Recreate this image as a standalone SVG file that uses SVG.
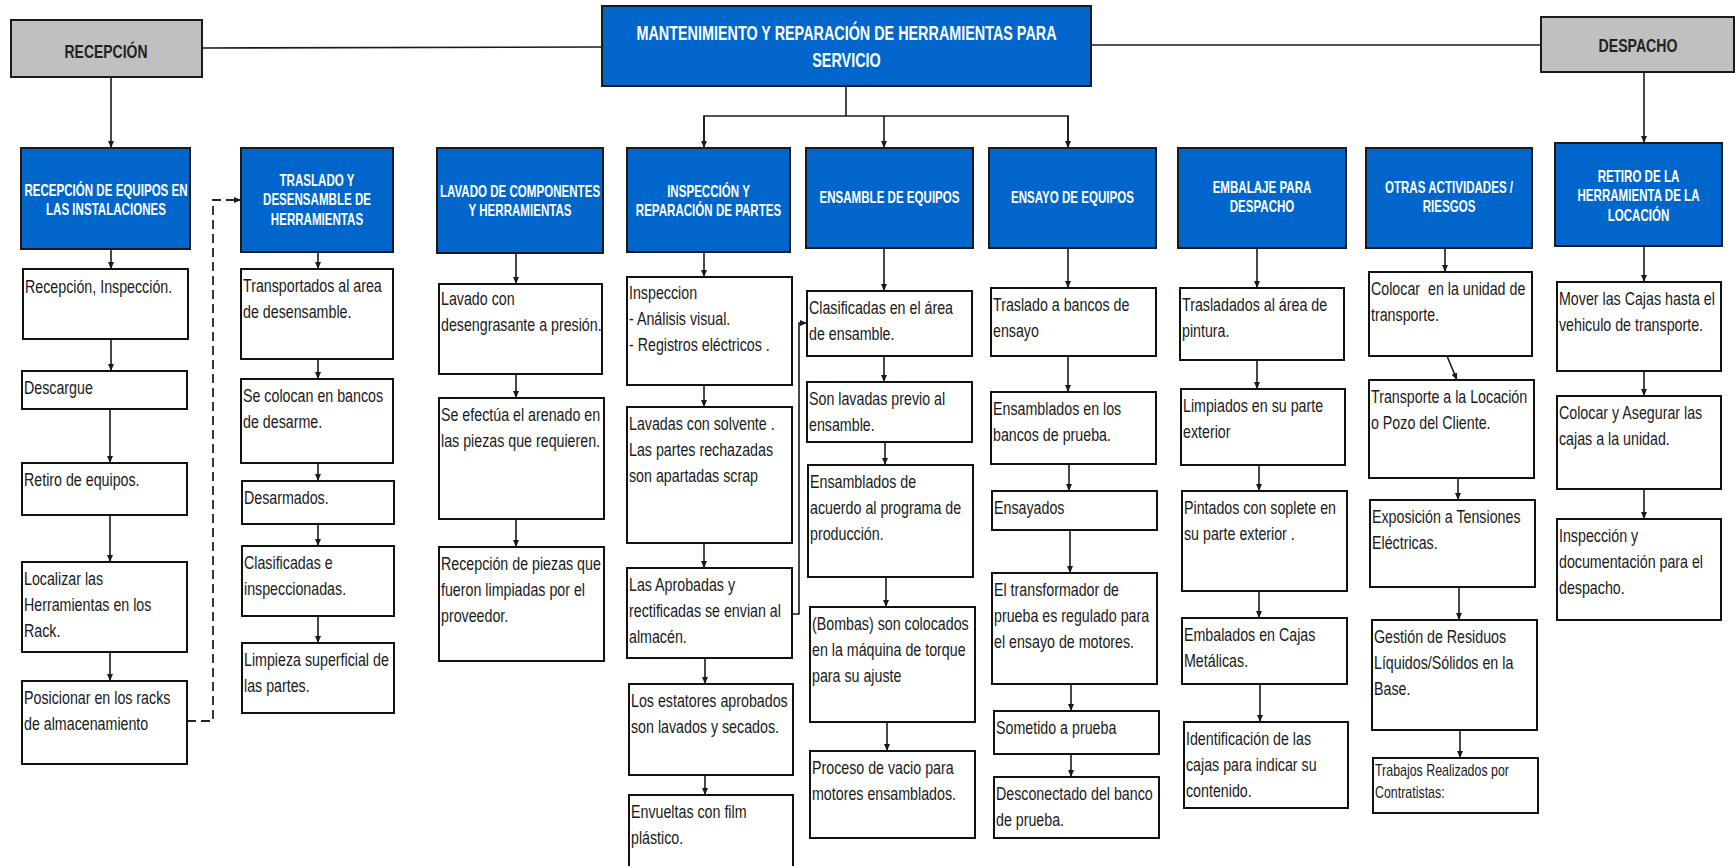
<svg xmlns="http://www.w3.org/2000/svg" width="1735" height="866" viewBox="0 0 1735 866">
<style>
  .hdr{fill:#0066cc;stroke:#1a1a1a;stroke-width:2}
  .gry{fill:#c0c0c0;stroke:#1a1a1a;stroke-width:2}
  .box{fill:#ffffff;stroke:#111111;stroke-width:2}
  .ht{font-family:"Liberation Sans",Arial,sans-serif;font-weight:bold;fill:#ffffff;font-size:16.3px;text-anchor:middle}
  .tt{font-family:"Liberation Sans",Arial,sans-serif;font-weight:bold;fill:#ffffff;font-size:21px;text-anchor:middle}
  .gt{font-family:"Liberation Sans",Arial,sans-serif;font-weight:bold;fill:#222222;font-size:18.6px;text-anchor:middle}
  .bt{font-family:"Liberation Sans",Arial,sans-serif;fill:#1a1a1a;font-size:18.5px}
  .sm{font-family:"Liberation Sans",Arial,sans-serif;fill:#1a1a1a;font-size:17px}
  .cn{fill:none;stroke:#1a1a1a;stroke-width:1.6}
  .dash{fill:none;stroke:#222222;stroke-width:1.8;stroke-dasharray:9 5}
</style>
<defs>
  <marker id="ah" markerUnits="userSpaceOnUse" markerWidth="8" markerHeight="7" refX="7" refY="3" orient="auto">
    <path d="M0,0 L7,3 L0,6 z" fill="#1a1a1a"/>
  </marker>
</defs>
<rect width="1735" height="866" fill="#ffffff"/>

<!-- connectors -->
<g id="connectors">
  <line class="cn" x1="202" y1="48" x2="602" y2="47"/>
  <line class="cn" x1="1091" y1="45" x2="1541" y2="45"/>
  <line class="cn" x1="111" y1="77" x2="111" y2="148" marker-end="url(#ah)"/>
  <line class="cn" x1="1644" y1="72" x2="1644" y2="143" marker-end="url(#ah)"/>
  <polyline class="cn" points="846,86 846,116"/>
  <polyline class="cn" points="704,148 704,116 1068,116 1068,148"/>
  <line class="cn" x1="704" y1="116" x2="704" y2="148" marker-end="url(#ah)"/>
  <line class="cn" x1="884" y1="116" x2="884" y2="148" marker-end="url(#ah)"/>
  <line class="cn" x1="1068" y1="116" x2="1068" y2="148" marker-end="url(#ah)"/>
  <polyline class="dash" points="187,721 213,721 213,200 233,200"/>
  <line class="cn" x1="232" y1="200" x2="241" y2="200" marker-end="url(#ah)"/>
  <polyline class="cn" points="792,614 799,614 799,323 807,323" marker-end="url(#ah)"/>
  <!-- column 1 -->
  <line class="cn" x1="111" y1="249" x2="111" y2="269" marker-end="url(#ah)"/>
  <line class="cn" x1="111" y1="339" x2="111" y2="371" marker-end="url(#ah)"/>
  <line class="cn" x1="110" y1="409" x2="110" y2="463" marker-end="url(#ah)"/>
  <line class="cn" x1="110" y1="515" x2="110" y2="562" marker-end="url(#ah)"/>
  <line class="cn" x1="110" y1="652" x2="110" y2="681" marker-end="url(#ah)"/>
  <!-- column 2 -->
  <line class="cn" x1="318" y1="252" x2="318" y2="269" marker-end="url(#ah)"/>
  <line class="cn" x1="318" y1="359" x2="318" y2="379" marker-end="url(#ah)"/>
  <line class="cn" x1="318" y1="463" x2="318" y2="481" marker-end="url(#ah)"/>
  <line class="cn" x1="318" y1="524" x2="318" y2="546" marker-end="url(#ah)"/>
  <line class="cn" x1="318" y1="616" x2="318" y2="643" marker-end="url(#ah)"/>
  <!-- column 3 -->
  <line class="cn" x1="516" y1="253" x2="516" y2="284" marker-end="url(#ah)"/>
  <line class="cn" x1="516" y1="374" x2="516" y2="398" marker-end="url(#ah)"/>
  <line class="cn" x1="516" y1="519" x2="516" y2="547" marker-end="url(#ah)"/>
  <!-- column 4 -->
  <line class="cn" x1="704" y1="252" x2="704" y2="277" marker-end="url(#ah)"/>
  <line class="cn" x1="704" y1="385" x2="704" y2="407" marker-end="url(#ah)"/>
  <line class="cn" x1="704" y1="543" x2="704" y2="568" marker-end="url(#ah)"/>
  <line class="cn" x1="705" y1="658" x2="705" y2="684" marker-end="url(#ah)"/>
  <line class="cn" x1="705" y1="775" x2="705" y2="795" marker-end="url(#ah)"/>
  <!-- column 5 -->
  <line class="cn" x1="884" y1="248" x2="884" y2="291" marker-end="url(#ah)"/>
  <line class="cn" x1="884" y1="356" x2="884" y2="382" marker-end="url(#ah)"/>
  <line class="cn" x1="885" y1="442" x2="885" y2="465" marker-end="url(#ah)"/>
  <line class="cn" x1="886" y1="577" x2="886" y2="607" marker-end="url(#ah)"/>
  <line class="cn" x1="887" y1="722" x2="887" y2="751" marker-end="url(#ah)"/>
  <!-- column 6 -->
  <line class="cn" x1="1068" y1="248" x2="1068" y2="288" marker-end="url(#ah)"/>
  <line class="cn" x1="1068" y1="356" x2="1068" y2="392" marker-end="url(#ah)"/>
  <line class="cn" x1="1069" y1="464" x2="1069" y2="491" marker-end="url(#ah)"/>
  <line class="cn" x1="1070" y1="530" x2="1070" y2="573" marker-end="url(#ah)"/>
  <line class="cn" x1="1071" y1="684" x2="1071" y2="711" marker-end="url(#ah)"/>
  <line class="cn" x1="1071" y1="754" x2="1071" y2="777" marker-end="url(#ah)"/>
  <!-- column 7 -->
  <line class="cn" x1="1257" y1="248" x2="1257" y2="288" marker-end="url(#ah)"/>
  <line class="cn" x1="1257" y1="360" x2="1257" y2="389" marker-end="url(#ah)"/>
  <line class="cn" x1="1259" y1="465" x2="1259" y2="491" marker-end="url(#ah)"/>
  <line class="cn" x1="1259" y1="591" x2="1259" y2="618" marker-end="url(#ah)"/>
  <line class="cn" x1="1260" y1="684" x2="1260" y2="722" marker-end="url(#ah)"/>
  <!-- column 8 -->
  <line class="cn" x1="1445" y1="248" x2="1445" y2="272" marker-end="url(#ah)"/>
  <line class="cn" x1="1447" y1="356" x2="1457" y2="380" marker-end="url(#ah)"/>
  <line class="cn" x1="1458" y1="478" x2="1458" y2="500" marker-end="url(#ah)"/>
  <line class="cn" x1="1459" y1="587" x2="1459" y2="620" marker-end="url(#ah)"/>
  <line class="cn" x1="1460" y1="730" x2="1460" y2="758" marker-end="url(#ah)"/>
  <!-- column 9 -->
  <line class="cn" x1="1644" y1="246" x2="1644" y2="282" marker-end="url(#ah)"/>
  <line class="cn" x1="1644" y1="371" x2="1644" y2="396" marker-end="url(#ah)"/>
  <line class="cn" x1="1644" y1="489" x2="1644" y2="519" marker-end="url(#ah)"/>
</g>

<!-- top level -->
<g id="recepcion">
  <rect class="gry" x="11" y="20" width="191" height="57"/>
  <text class="gt" transform="translate(106 57.6) scale(.75 1)">RECEPCIÓN</text>
</g>
<g id="titulo">
  <rect class="hdr" x="602" y="6" width="489" height="80"/>
  <text class="tt" transform="translate(846.5 40) scale(.685 1)"><tspan x="0">MANTENIMIENTO Y REPARACIÓN DE HERRAMIENTAS PARA</tspan><tspan x="0" dy="27.5">SERVICIO</tspan></text>
</g>
<g id="despacho">
  <rect class="gry" x="1541" y="17" width="193" height="55"/>
  <text class="gt" transform="translate(1638 51.6) scale(.76 1)">DESPACHO</text>
</g>

<!-- column headers -->
<g id="h-recepcion-equipos">
  <rect class="hdr" x="21" y="148" width="169" height="101"/>
  <text class="ht" transform="translate(106 196) scale(.71 1)"><tspan x="0">RECEPCIÓN DE EQUIPOS EN</tspan><tspan x="0" dy="19">LAS INSTALACIONES</tspan></text>
</g>
<g id="h-traslado">
  <rect class="hdr" x="241" y="148" width="152" height="104"/>
  <text class="ht" transform="translate(317 186) scale(.71 1)"><tspan x="0">TRASLADO Y</tspan><tspan x="0" dy="19.5">DESENSAMBLE DE</tspan><tspan x="0" dy="19.5">HERRAMIENTAS</tspan></text>
</g>
<g id="h-lavado">
  <rect class="hdr" x="437" y="148" width="166" height="105"/>
  <text class="ht" transform="translate(520 197) scale(.71 1)"><tspan x="0">LAVADO DE COMPONENTES</tspan><tspan x="0" dy="19">Y HERRAMIENTAS</tspan></text>
</g>
<g id="h-inspeccion">
  <rect class="hdr" x="627" y="148" width="163" height="104"/>
  <text class="ht" transform="translate(708.5 196.5) scale(.71 1)"><tspan x="0">INSPECCIÓN Y</tspan><tspan x="0" dy="20">REPARACIÓN DE PARTES</tspan></text>
</g>
<g id="h-ensamble">
  <rect class="hdr" x="806" y="148" width="167" height="100"/>
  <text class="ht" transform="translate(889.5 203) scale(.71 1)">ENSAMBLE DE EQUIPOS</text>
</g>
<g id="h-ensayo">
  <rect class="hdr" x="989" y="148" width="167" height="100"/>
  <text class="ht" transform="translate(1072.5 203) scale(.71 1)">ENSAYO DE EQUIPOS</text>
</g>
<g id="h-embalaje">
  <rect class="hdr" x="1178" y="148" width="168" height="100"/>
  <text class="ht" transform="translate(1262 193) scale(.71 1)"><tspan x="0">EMBALAJE PARA</tspan><tspan x="0" dy="19.5">DESPACHO</tspan></text>
</g>
<g id="h-otras">
  <rect class="hdr" x="1366" y="148" width="166" height="100"/>
  <text class="ht" transform="translate(1449 193) scale(.71 1)"><tspan x="0">OTRAS ACTIVIDADES /</tspan><tspan x="0" dy="19.5">RIESGOS</tspan></text>
</g>
<g id="h-retiro">
  <rect class="hdr" x="1555" y="143" width="167" height="103"/>
  <text class="ht" transform="translate(1638.5 182) scale(.71 1)"><tspan x="0">RETIRO DE LA</tspan><tspan x="0" dy="19.5">HERRAMIENTA DE LA</tspan><tspan x="0" dy="19.5">LOCACIÓN</tspan></text>
</g>

<!-- column 1 -->
<g id="n1a"><rect class="box" x="23" y="269" width="165" height="70"/><text class="bt" transform="translate(25 293) scale(.77 1)">Recepción, Inspección.</text></g>
<g id="n1b"><rect class="box" x="22" y="371" width="165" height="38"/><text class="bt" transform="translate(24 394) scale(.77 1)">Descargue</text></g>
<g id="n1c"><rect class="box" x="22" y="463" width="165" height="52"/><text class="bt" transform="translate(24 486) scale(.77 1)">Retiro de equipos.</text></g>
<g id="n1d"><rect class="box" x="22" y="562" width="165" height="90"/><text class="bt" transform="translate(24 585) scale(.77 1)"><tspan x="0">Localizar las</tspan><tspan x="0" dy="26">Herramientas en los</tspan><tspan x="0" dy="26">Rack.</tspan></text></g>
<g id="n1e"><rect class="box" x="22" y="681" width="165" height="83"/><text class="bt" transform="translate(24 704) scale(.77 1)"><tspan x="0">Posicionar en los racks</tspan><tspan x="0" dy="26">de almacenamiento</tspan></text></g>

<!-- column 2 -->
<g id="n2a"><rect class="box" x="241" y="269" width="152" height="90"/><text class="bt" transform="translate(243 292) scale(.77 1)"><tspan x="0">Transportados al area</tspan><tspan x="0" dy="26">de desensamble.</tspan></text></g>
<g id="n2b"><rect class="box" x="241" y="379" width="152" height="84"/><text class="bt" transform="translate(243 402) scale(.77 1)"><tspan x="0">Se colocan en bancos</tspan><tspan x="0" dy="26">de desarme.</tspan></text></g>
<g id="n2c"><rect class="box" x="242" y="481" width="152" height="43"/><text class="bt" transform="translate(244 504) scale(.77 1)">Desarmados.</text></g>
<g id="n2d"><rect class="box" x="242" y="546" width="152" height="70"/><text class="bt" transform="translate(244 569) scale(.77 1)"><tspan x="0">Clasificadas e</tspan><tspan x="0" dy="26">inspeccionadas.</tspan></text></g>
<g id="n2e"><rect class="box" x="242" y="643" width="152" height="70"/><text class="bt" transform="translate(244 666) scale(.77 1)"><tspan x="0">Limpieza superficial de</tspan><tspan x="0" dy="26">las partes.</tspan></text></g>

<!-- column 3 -->
<g id="n3a"><rect class="box" x="439" y="284" width="163" height="90"/><text class="bt" transform="translate(441 305) scale(.77 1)"><tspan x="0">Lavado con</tspan><tspan x="0" dy="26">desengrasante a presión.</tspan></text></g>
<g id="n3b"><rect class="box" x="439" y="398" width="165" height="121"/><text class="bt" transform="translate(441 421) scale(.77 1)"><tspan x="0">Se efectúa el arenado en</tspan><tspan x="0" dy="26">las piezas que requieren.</tspan></text></g>
<g id="n3c"><rect class="box" x="439" y="547" width="165" height="114"/><text class="bt" transform="translate(441 570) scale(.77 1)"><tspan x="0">Recepción de piezas que</tspan><tspan x="0" dy="26">fueron limpiadas por el</tspan><tspan x="0" dy="26">proveedor.</tspan></text></g>

<!-- column 4 -->
<g id="n4a"><rect class="box" x="627" y="277" width="165" height="108"/><text class="bt" transform="translate(629 299) scale(.77 1)"><tspan x="0">Inspeccion</tspan><tspan x="0" dy="26">- Análisis visual.</tspan><tspan x="0" dy="26">- Registros eléctricos .</tspan></text></g>
<g id="n4b"><rect class="box" x="627" y="407" width="165" height="136"/><text class="bt" transform="translate(629 430) scale(.77 1)"><tspan x="0">Lavadas con solvente .</tspan><tspan x="0" dy="26">Las partes rechazadas</tspan><tspan x="0" dy="26">son apartadas scrap</tspan></text></g>
<g id="n4c"><rect class="box" x="627" y="568" width="165" height="90"/><text class="bt" transform="translate(629 591) scale(.77 1)"><tspan x="0">Las Aprobadas y</tspan><tspan x="0" dy="26">rectificadas se envian al</tspan><tspan x="0" dy="26">almacén.</tspan></text></g>
<g id="n4d"><rect class="box" x="629" y="684" width="164" height="91"/><text class="bt" transform="translate(631 707) scale(.77 1)"><tspan x="0">Los estatores aprobados</tspan><tspan x="0" dy="26">son lavados y secados.</tspan></text></g>
<g id="n4e"><rect class="box" x="629" y="795" width="164" height="80"/><text class="bt" transform="translate(631 818) scale(.77 1)"><tspan x="0">Envueltas con film</tspan><tspan x="0" dy="26">plástico.</tspan></text></g>

<!-- column 5 -->
<g id="n5a"><rect class="box" x="807" y="291" width="165" height="65"/><text class="bt" transform="translate(809 314) scale(.77 1)"><tspan x="0">Clasificadas en el área</tspan><tspan x="0" dy="26">de ensamble.</tspan></text></g>
<g id="n5b"><rect class="box" x="807" y="382" width="165" height="60"/><text class="bt" transform="translate(809 405) scale(.77 1)"><tspan x="0">Son lavadas previo al</tspan><tspan x="0" dy="26">ensamble.</tspan></text></g>
<g id="n5c"><rect class="box" x="808" y="465" width="165" height="112"/><text class="bt" transform="translate(810 488) scale(.77 1)"><tspan x="0">Ensamblados de</tspan><tspan x="0" dy="26">acuerdo al programa de</tspan><tspan x="0" dy="26">producción.</tspan></text></g>
<g id="n5d"><rect class="box" x="810" y="607" width="165" height="115"/><text class="bt" transform="translate(812 630) scale(.77 1)"><tspan x="0">(Bombas) son colocados</tspan><tspan x="0" dy="26">en la máquina de torque</tspan><tspan x="0" dy="26">para su ajuste</tspan></text></g>
<g id="n5e"><rect class="box" x="810" y="751" width="165" height="87"/><text class="bt" transform="translate(812 774) scale(.77 1)"><tspan x="0">Proceso de vacio para</tspan><tspan x="0" dy="26">motores ensamblados.</tspan></text></g>

<!-- column 6 -->
<g id="n6a"><rect class="box" x="991" y="288" width="165" height="68"/><text class="bt" transform="translate(993 311) scale(.77 1)"><tspan x="0">Traslado a bancos de</tspan><tspan x="0" dy="26">ensayo</tspan></text></g>
<g id="n6b"><rect class="box" x="991" y="392" width="165" height="72"/><text class="bt" transform="translate(993 415) scale(.77 1)"><tspan x="0">Ensamblados en los</tspan><tspan x="0" dy="26">bancos de prueba.</tspan></text></g>
<g id="n6c"><rect class="box" x="992" y="491" width="165" height="39"/><text class="bt" transform="translate(994 514) scale(.77 1)">Ensayados</text></g>
<g id="n6d"><rect class="box" x="992" y="573" width="165" height="111"/><text class="bt" transform="translate(994 596) scale(.77 1)"><tspan x="0">El transformador de</tspan><tspan x="0" dy="26">prueba es regulado para</tspan><tspan x="0" dy="26">el ensayo de motores.</tspan></text></g>
<g id="n6e"><rect class="box" x="994" y="711" width="165" height="43"/><text class="bt" transform="translate(996 734) scale(.77 1)">Sometido a prueba</text></g>
<g id="n6f"><rect class="box" x="994" y="777" width="165" height="61"/><text class="bt" transform="translate(996 800) scale(.77 1)"><tspan x="0">Desconectado del banco</tspan><tspan x="0" dy="26">de prueba.</tspan></text></g>

<!-- column 7 -->
<g id="n7a"><rect class="box" x="1180" y="288" width="164" height="72"/><text class="bt" transform="translate(1182 311) scale(.77 1)"><tspan x="0">Trasladados al área de</tspan><tspan x="0" dy="26">pintura.</tspan></text></g>
<g id="n7b"><rect class="box" x="1181" y="389" width="164" height="76"/><text class="bt" transform="translate(1183 412) scale(.77 1)"><tspan x="0">Limpiados en su parte</tspan><tspan x="0" dy="26">exterior</tspan></text></g>
<g id="n7c"><rect class="box" x="1182" y="491" width="165" height="100"/><text class="bt" transform="translate(1184 514) scale(.77 1)"><tspan x="0">Pintados con soplete en</tspan><tspan x="0" dy="26">su parte exterior .</tspan></text></g>
<g id="n7d"><rect class="box" x="1182" y="618" width="165" height="66"/><text class="bt" transform="translate(1184 641) scale(.77 1)"><tspan x="0">Embalados en Cajas</tspan><tspan x="0" dy="26">Metálicas.</tspan></text></g>
<g id="n7e"><rect class="box" x="1184" y="722" width="164" height="86"/><text class="bt" transform="translate(1186 745) scale(.77 1)"><tspan x="0">Identificación de las</tspan><tspan x="0" dy="26">cajas para indicar su</tspan><tspan x="0" dy="26">contenido.</tspan></text></g>

<!-- column 8 -->
<g id="n8a"><rect class="box" x="1369" y="272" width="163" height="84"/><text class="bt" transform="translate(1371 295) scale(.77 1)"><tspan x="0" xml:space="preserve">Colocar  en la unidad de</tspan><tspan x="0" dy="26">transporte.</tspan></text></g>
<g id="n8b"><rect class="box" x="1369" y="380" width="165" height="98"/><text class="bt" transform="translate(1371 403) scale(.77 1)"><tspan x="0">Transporte a la Locación</tspan><tspan x="0" dy="26">o Pozo del Cliente.</tspan></text></g>
<g id="n8c"><rect class="box" x="1370" y="500" width="165" height="87"/><text class="bt" transform="translate(1372 523) scale(.77 1)"><tspan x="0">Exposición a Tensiones</tspan><tspan x="0" dy="26">Eléctricas.</tspan></text></g>
<g id="n8d"><rect class="box" x="1372" y="620" width="165" height="110"/><text class="bt" transform="translate(1374 643) scale(.77 1)"><tspan x="0">Gestión de Residuos</tspan><tspan x="0" dy="26">Líquidos/Sólidos en la</tspan><tspan x="0" dy="26">Base.</tspan></text></g>
<g id="n8e"><rect class="box" x="1373" y="758" width="165" height="55"/><text class="sm" transform="translate(1375 776) scale(.73 1)"><tspan x="0">Trabajos Realizados por</tspan><tspan x="0" dy="22.5">Contratistas:</tspan></text></g>

<!-- column 9 -->
<g id="n9a"><rect class="box" x="1557" y="282" width="164" height="89"/><text class="bt" transform="translate(1559 305) scale(.77 1)"><tspan x="0">Mover las Cajas hasta el</tspan><tspan x="0" dy="26">vehiculo de transporte.</tspan></text></g>
<g id="n9b"><rect class="box" x="1557" y="396" width="164" height="93"/><text class="bt" transform="translate(1559 419) scale(.77 1)"><tspan x="0">Colocar y Asegurar las</tspan><tspan x="0" dy="26">cajas a la unidad.</tspan></text></g>
<g id="n9c"><rect class="box" x="1557" y="519" width="164" height="101"/><text class="bt" transform="translate(1559 542) scale(.77 1)"><tspan x="0">Inspección y</tspan><tspan x="0" dy="26">documentación para el</tspan><tspan x="0" dy="26">despacho.</tspan></text></g>
</svg>
